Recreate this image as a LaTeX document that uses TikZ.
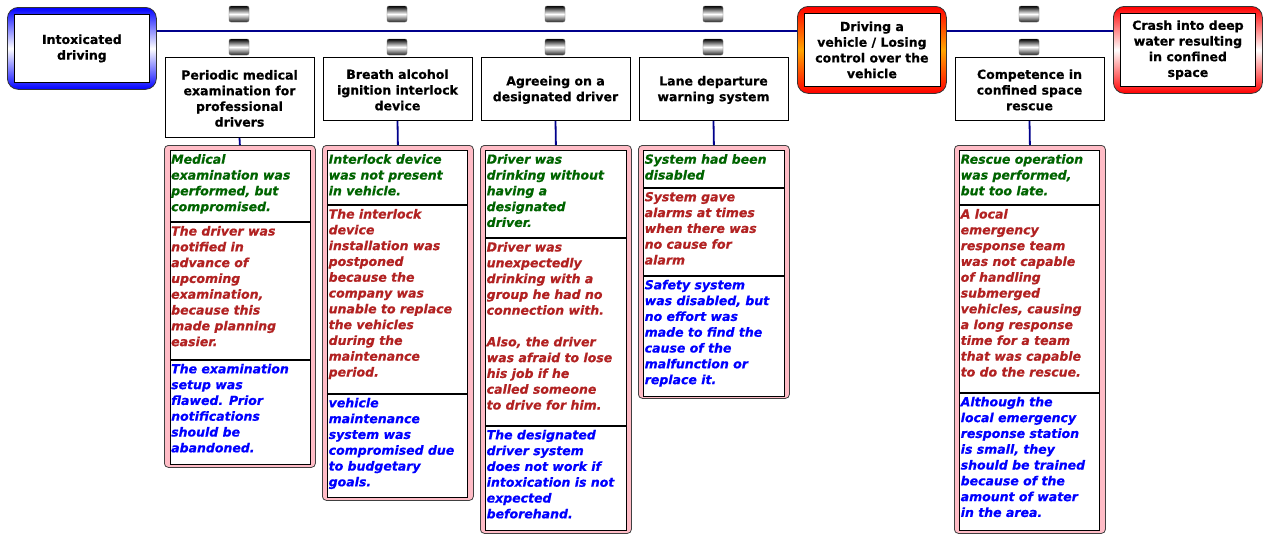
\documentclass[tikz,border=0pt]{standalone}
\usepackage{fontspec}
\setmainfont{DejaVu Sans}[BoldFeatures={FakeBold=0.6},BoldItalicFeatures={FakeBold=0.6}]
\definecolor{navyline}{RGB}{0,0,140}
\definecolor{gtxt}{RGB}{0,100,0}
\definecolor{rtxt}{RGB}{178,34,34}
\definecolor{btxt}{RGB}{0,0,255}
\definecolor{pinkfill}{RGB}{255,188,198}
\definecolor{evorange}{RGB}{255,165,0}
\begin{document}
\begin{tikzpicture}[x=1pt,y=-1pt,
  bfont/.style={font=\bfseries\fontsize{12.5}{15.7}\selectfont},
  ifont/.style={font=\bfseries\itshape\fontsize{12.5}{15.8}\selectfont},
  bbox/.style={draw=black,fill=white,line width=0.8pt,inner sep=0pt,minimum width=149pt,anchor=north},
  btext/.style={bfont,align=center,inner sep=0pt},
  evout/.style={draw=black!80,line width=0.8pt,rounded corners=11pt,minimum width=149pt,anchor=north west,inner sep=0pt},
  evin/.style={draw=black,fill=white,line width=0.8pt,inner sep=0pt},
  icon/.style={draw=black!60,line width=0.4pt,rounded corners=2pt,top color=black,bottom color=black!85,middle color=white,minimum width=20pt,minimum height=16pt,inner sep=0pt},
  pbox/.style={draw=black!75,fill=pinkfill,line width=0.8pt,rounded corners=4pt,minimum width=151pt,anchor=north west,inner sep=0pt},
  sect/.style={draw=black,fill=white,line width=0.8pt,anchor=north west,inner sep=0pt},
  txt/.style={ifont,align=left,anchor=north west,inner sep=0pt,execute at begin node=\strut},
  gt/.style={txt,text=gtxt},
  rt/.style={txt,text=rtxt},
  bt/.style={txt,text=btxt},
  conn/.style={draw=navyline,line width=1.8pt}
]
\useasboundingbox[fill=white] (0,0) rectangle (1268,539);

% ---- event boxes ----
\node[evout,top color=blue,bottom color=blue,middle color=white,minimum height=82pt] (e1o) at (7,7) {};
\node[evin,minimum width=135pt,minimum height=68pt] (e1i) at (e1o.center) {};
\node[btext] (e1) at ([yshift=0pt]e1i.center) {Intoxicated\\driving};
\node[evout,top color=red,bottom color=red,middle color=evorange,minimum height=87pt] (e2o) at (797,6) {};
\node[evin,minimum width=136pt,minimum height=73pt] (e2i) at (e2o.center) {};
\node[btext] (e2) at ([yshift=0pt]e2i.center) {Driving a\\vehicle / Losing\\control over the\\vehicle};
\node[evout,top color=red,bottom color=red,middle color=white,minimum height=87pt] (e3o) at (1113,6) {};
\node[evin,minimum width=135pt,minimum height=73pt] (e3i) at (e3o.center) {};
\node[btext] (e3) at ([yshift=0pt]e3i.center) {Crash into deep\\water resulting\\in confined\\space};

% ---- main line ----
\coordinate (m1) at (e1o.east |- 0,31);
\coordinate (m2) at (e2o.west |- 0,31);
\coordinate (m3) at (e2o.east |- 0,31);
\coordinate (m4) at (e3o.west |- 0,31);
\draw[navyline,line width=1.8pt] (m1) -- (m2);
\draw[navyline,line width=1.8pt] (m3) -- (m4);

% ---- barrier icons ----
\foreach \cx/\n in {239/1,397/2,555/3,713/4,1029/5}{
  \node[icon] (ia\n) at (\cx,14) {};
  \node[icon] (ib\n) at (\cx,47) {};
}

% ---- barrier boxes ----
\node[bbox,minimum height=80pt] (b1) at (239.5,57) {};
\node[btext] (b1t) at ([yshift=-1pt]b1.center) {Periodic medical\\examination for\\professional\\drivers};
\node[bbox,minimum height=63pt] (b2) at (397.5,57) {};
\node[btext] (b2t) at ([yshift=-1pt]b2.center) {Breath alcohol\\ignition interlock\\device};
\node[bbox,minimum height=63pt] (b3) at (555.5,57) {};
\node[btext] (b3t) at ([yshift=-1pt]b3.center) {Agreeing on a\\designated driver};
\node[bbox,minimum height=63pt] (b4) at (713.5,57) {};
\node[btext] (b4t) at ([yshift=-1pt]b4.center) {Lane departure\\warning system};
\node[bbox,minimum height=63pt] (b5) at (1029.5,57) {};
\node[btext] (b5t) at ([yshift=-1pt]b5.center) {Competence in\\confined space\\rescue};

% ---- column 1 ----
\node[pbox,minimum height=322pt] (p1) at (164,145) {};
\draw[conn] (b1.south) -- (p1.north);
\node[sect,minimum width=140pt,minimum height=71pt] (s1a) at (169.5,150) {};
\node[sect,minimum width=140pt,minimum height=137pt] (s1b) at (s1a.south west) {};
\node[sect,minimum width=140pt,minimum height=104pt] (s1c) at (s1b.south west) {};
\node[gt] (t1a) at ([xshift=1.5pt,yshift=-4pt]s1a.north west) {Medical\\examination was\\performed, but\\compromised.};
\node[rt] (t1b) at ([xshift=1.5pt,yshift=-4pt]s1b.north west) {The driver was\\notified in\\advance of\\upcoming\\examination,\\because this\\made planning\\easier.};
\node[bt] (t1c) at ([xshift=1.5pt,yshift=-4pt]s1c.north west) {The examination\\setup was\\flawed. Prior\\notifications\\should be\\abandoned.};

% ---- column 2 ----
\node[pbox,minimum height=355pt] (p2) at (322,145) {};
\draw[conn] (b2.south) -- (p2.north);
\node[sect,minimum width=140pt,minimum height=54pt] (s2a) at (327,150) {};
\node[sect,minimum width=140pt,minimum height=188pt] (s2b) at (s2a.south west) {};
\node[sect,minimum width=140pt,minimum height=103pt] (s2c) at (s2b.south west) {};
\node[gt] (t2a) at ([xshift=1.5pt,yshift=-4pt]s2a.north west) {Interlock device\\was not present\\in vehicle.};
\node[rt] (t2b) at ([xshift=1.5pt,yshift=-4pt]s2b.north west) {The interlock\\device\\installation was\\postponed\\because the\\company was\\unable to replace\\the vehicles\\during the\\maintenance\\period.};
\node[bt] (t2c) at ([xshift=1.5pt,yshift=-4pt]s2c.north west) {vehicle\\maintenance\\system was\\compromised due\\to budgetary\\goals.};

% ---- column 3 ----
\node[pbox,minimum height=388pt] (p3) at (480,145) {};
\draw[conn] (b3.south) -- (p3.north);
\node[sect,minimum width=140.5pt,minimum height=87pt] (s3a) at (485,150) {};
\node[sect,minimum width=140.5pt,minimum height=187pt] (s3b) at (s3a.south west) {};
\node[sect,minimum width=140.5pt,minimum height=104pt] (s3c) at (s3b.south west) {};
\node[gt] (t3a) at ([xshift=1.5pt,yshift=-4pt]s3a.north west) {Driver was\\drinking without\\having a\\designated\\driver.};
\node[rt] (t3b) at ([xshift=1.5pt,yshift=-4pt]s3b.north west) {Driver was\\unexpectedly\\drinking with a\\group he had no\\connection with.\\[15.8pt]Also, the driver\\was afraid to lose\\his job if he\\called someone\\to drive for him.};
\node[bt] (t3c) at ([xshift=1.5pt,yshift=-4pt]s3c.north west) {The designated\\driver system\\does not work if\\intoxication is not\\expected\\beforehand.};

% ---- column 4 ----
\node[pbox,minimum height=253pt] (p4) at (638,145) {};
\draw[conn] (b4.south) -- (p4.north);
\node[sect,minimum width=141pt,minimum height=37pt] (s4a) at (643,150) {};
\node[sect,minimum width=141pt,minimum height=87pt] (s4b) at (s4a.south west) {};
\node[sect,minimum width=141pt,minimum height=120pt] (s4c) at (s4b.south west) {};
\node[gt] (t4a) at ([xshift=1.5pt,yshift=-4pt]s4a.north west) {System had been\\disabled};
\node[rt] (t4b) at ([xshift=1.5pt,yshift=-4pt]s4b.north west) {System gave\\alarms at times\\when there was\\no cause for\\alarm};
\node[bt] (t4c) at ([xshift=1.5pt,yshift=-4pt]s4c.north west) {Safety system\\was disabled, but\\no effort was\\made to find the\\cause of the\\malfunction or\\replace it.};

% ---- column 5 ----
\node[pbox,minimum height=388pt] (p5) at (954,145) {};
\draw[conn] (b5.south) -- (p5.north);
\node[sect,minimum width=140pt,minimum height=54pt] (s5a) at (959,150) {};
\node[sect,minimum width=140pt,minimum height=187pt] (s5b) at (s5a.south west) {};
\node[sect,minimum width=140pt,minimum height=137pt] (s5c) at (s5b.south west) {};
\node[gt] (t5a) at ([xshift=1.5pt,yshift=-4pt]s5a.north west) {Rescue operation\\was performed,\\but too late.};
\node[rt] (t5b) at ([xshift=1.5pt,yshift=-4pt]s5b.north west) {A local\\emergency\\response team\\was not capable\\of handling\\submerged\\vehicles, causing\\a long response\\time for a team\\that was capable\\to do the rescue.};
\node[bt] (t5c) at ([xshift=1.5pt,yshift=-4pt]s5c.north west) {Although the\\local emergency\\response station\\is small, they\\should be trained\\because of the\\amount of water\\in the area.};
\end{tikzpicture}
\end{document}
